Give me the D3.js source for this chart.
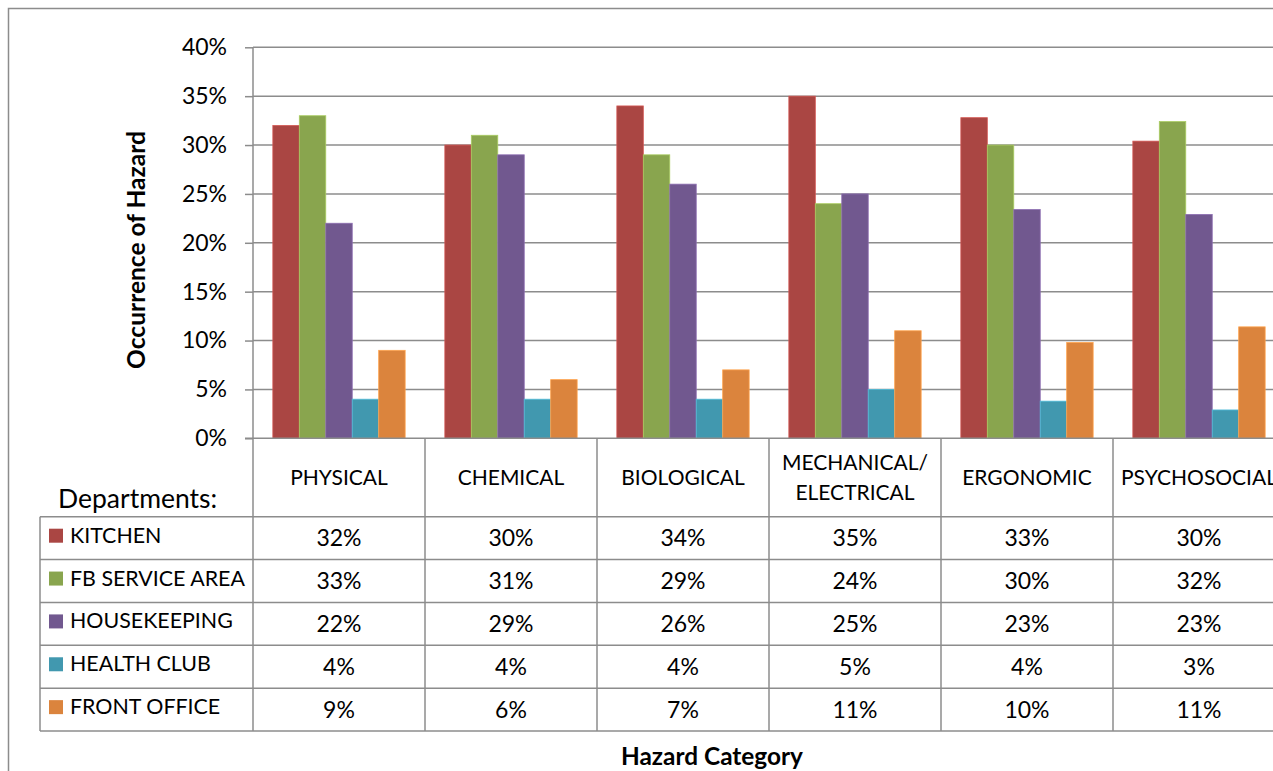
<!DOCTYPE html>
<html>
<head>
<meta charset="utf-8">
<script src="https://cdn.jsdelivr.net/npm/d3@7"></script>
<style>
  html, body { margin: 0; padding: 0; background: #fff; }
  svg { display: block; font-family: Lato, "Open Sans", sans-serif; }
</style>
</head>
<body>
<svg id="chart" width="1273" height="771"></svg>
<script>
// Hazard categories (columns of the data table)
const categories = ["PHYSICAL", "CHEMICAL", "BIOLOGICAL", "MECHANICAL/\nELECTRICAL", "ERGONOMIC", "PSYCHOSOCIAL"];

// Departments (series)
const departments = ["KITCHEN", "FB SERVICE AREA", "HOUSEKEEPING", "HEALTH CLUB", "FRONT OFFICE"];
const colors = ["#AA4643", "#89A54E", "#71588F", "#4198AF", "#DB843D"];

// Share of hazard occurrence per department, one value per category
const kitchen      = [0.32, 0.30, 0.34, 0.35, 0.328, 0.304];
const fbService    = [0.33, 0.31, 0.29, 0.24, 0.300, 0.324];
const housekeeping = [0.22, 0.29, 0.26, 0.25, 0.234, 0.229];
const healthClub   = [0.04, 0.04, 0.04, 0.05, 0.038, 0.029];
const frontOffice  = [0.09, 0.06, 0.07, 0.11, 0.098, 0.114];

const yTicks = [0, 0.05, 0.10, 0.15, 0.20, 0.25, 0.30, 0.35, 0.40];

const seriesValues = [kitchen, fbService, housekeeping, healthClub, frontOffice];
const series = departments.map((name, i) => ({ name, color: colors[i], values: seriesValues[i] }));

const svg = d3.select("#chart");
const fmt = d3.format(".0%");
const gridColor = "#8c8c8c";

// Layout
const plotLeft = 253, plotTop = 47.3, plotBottom = 438.3;
const catWidth = 172;
const tableLeft = 40, tableTop = 516.7, tableBottom = 731;

const x = d3.scaleBand().domain(categories).range([plotLeft, plotLeft + catWidth * categories.length]);
const x1 = d3.scaleBand().domain(departments).range([0, x.bandwidth()]).paddingInner(0).paddingOuter(0.75);
const y = d3.scaleLinear().domain([0, 0.40]).range([plotBottom, plotTop]);
const rowY = d3.scaleBand().domain(departments).range([tableTop, tableBottom]);

// Outer chart border
svg.append("rect")
  .attr("x", 8.5).attr("y", 8.5).attr("width", 1400).attr("height", 900)
  .attr("fill", "none").attr("stroke", gridColor).attr("stroke-width", 1.5);

// Gridlines and y axis
const yAxis = d3.axisLeft(y).tickValues(yTicks).tickFormat(fmt).tickSize(8).tickPadding(18);
const gy = svg.append("g").attr("transform", `translate(${plotLeft},0)`).call(yAxis);
gy.select(".domain").attr("stroke", gridColor).attr("stroke-width", 1.5).attr("d", `M0,${plotTop}V${plotBottom}`);
gy.selectAll(".tick line").attr("stroke", gridColor).attr("stroke-width", 1.5);
gy.selectAll(".tick text").attr("font-size", 23).attr("fill", "#000").attr("font-family", "Lato, sans-serif");

svg.append("g").selectAll("line").data(yTicks.filter(t => t > 0)).join("line")
  .attr("x1", plotLeft).attr("x2", 1300)
  .attr("y1", d => y(d)).attr("y2", d => y(d))
  .attr("stroke", gridColor).attr("stroke-width", 1.5);

// Bars
const groups = svg.append("g").selectAll("g").data(series).join("g")
  .attr("fill", d => d.color);
groups.selectAll("rect")
  .data(d => d.values.map((v, j) => ({ name: d.name, cat: categories[j], v, color: d.color })))
  .join("rect")
  .attr("x", d => x(d.cat) + x1(d.name))
  .attr("width", x1.bandwidth())
  .attr("y", d => y(d.v))
  .attr("height", d => y(0) - y(d.v))
  .attr("stroke", d => d3.color(d.color).brighter(0.6))
  .attr("stroke-width", 0.8);

// Category axis line
svg.append("line")
  .attr("x1", plotLeft - 8).attr("x2", 1300)
  .attr("y1", plotBottom).attr("y2", plotBottom)
  .attr("stroke", gridColor).attr("stroke-width", 1.5);

// Data table grid
const tbl = svg.append("g").attr("stroke", gridColor).attr("stroke-width", 1.5);
// vertical lines at category boundaries
const bounds = categories.map(c => x(c)).concat([x.range()[1]]);
tbl.selectAll("line.v").data(bounds).join("line").attr("class", "v")
  .attr("x1", d => d).attr("x2", d => d)
  .attr("y1", plotBottom).attr("y2", tableBottom);
tbl.append("line").attr("x1", tableLeft).attr("x2", tableLeft).attr("y1", tableTop).attr("y2", tableBottom);
// horizontal row lines
const rowLines = departments.map(d => rowY(d)).concat([tableBottom]);
tbl.selectAll("line.h").data(rowLines).join("line").attr("class", "h")
  .attr("x1", tableLeft).attr("x2", 1300)
  .attr("y1", d => d).attr("y2", d => d);

// Category headers
const headerMid = (plotBottom + tableTop) / 2;
const heads = svg.append("g").attr("font-size", 21).attr("text-anchor", "middle").attr("fill", "#000");
categories.forEach(c => {
  const lines = c.split("\n");
  const t = heads.append("text").attr("x", x(c) + x.bandwidth() / 2);
  lines.forEach((ln, i) => {
    t.append("tspan")
      .attr("x", x(c) + x.bandwidth() / 2)
      .attr("y", headerMid + 7 + (i - (lines.length - 1) / 2) * 30)
      .text(ln);
  });
});

// "Departments:" caption
svg.append("text").attr("x", 58).attr("y", 508).attr("font-size", 26.5).attr("fill", "#000").text("Departments:");

// Legend keys and labels in the table
const leg = svg.append("g").selectAll("g").data(series).join("g")
  .attr("transform", d => `translate(0,${rowY(d.name)})`);
leg.append("rect").attr("x", 49).attr("y", 12).attr("width", 14).attr("height", 14).attr("fill", d => d.color);
leg.append("text").attr("x", 70).attr("y", 26).attr("font-size", 21.4).attr("fill", "#000").text(d => d.name);

// Value cells
const cells = svg.append("g").attr("font-size", 23).attr("text-anchor", "middle").attr("fill", "#000");
series.forEach(s => {
  s.values.forEach((v, j) => {
    cells.append("text")
      .attr("x", x(categories[j]) + x.bandwidth() / 2)
      .attr("y", rowY(s.name) + rowY.bandwidth() / 2 + 8)
      .text(fmt(v));
  });
});

// Axis titles
svg.append("text")
  .attr("transform", `translate(145,250) rotate(-90)`)
  .attr("text-anchor", "middle").attr("font-size", 24.5).attr("font-weight", "bold").attr("fill", "#000")
  .text("Occurrence of Hazard");
svg.append("text")
  .attr("x", 712).attr("y", 765)
  .attr("text-anchor", "middle").attr("font-size", 24.4).attr("font-weight", "bold").attr("fill", "#000")
  .text("Hazard Category");
</script>
</body>
</html>
